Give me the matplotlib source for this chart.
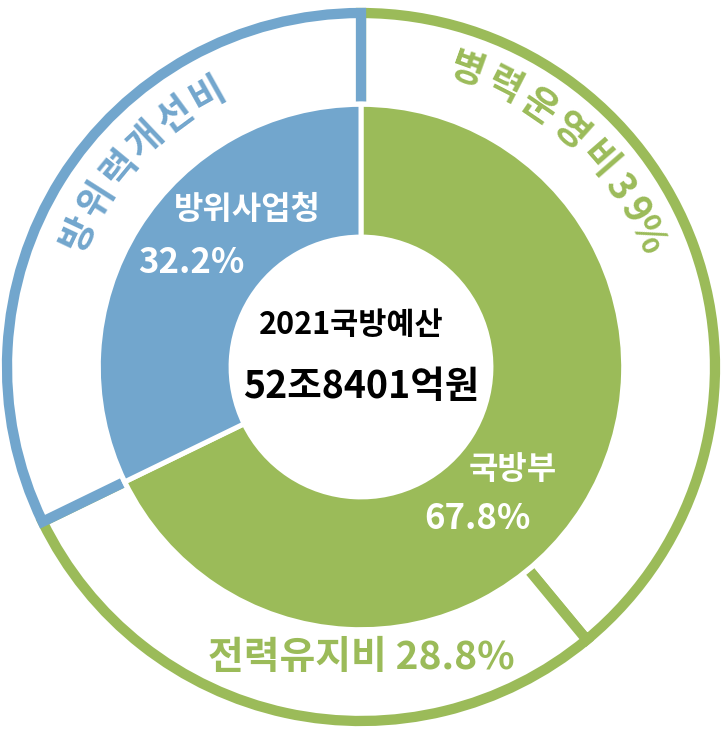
import numpy as np
import matplotlib.pyplot as plt

plt.rcParams['font.family'] = ['Noto Sans CJK KR', 'DejaVu Sans']

# data
inner_labels = ['국방부', '방위사업청']
inner_values = [67.8, 32.2]
outer_labels = ['병력운영비', '전력유지비', '방위력개선비']
outer_values = [39, 28.8, 32.2]
center_title = '2021국방예산'
center_total = '52조8401억원'

green = '#9bbb59'
blue = '#72a6cd'
inner_colors = [green, blue]
outer_colors = [green, green, blue]

fig = plt.figure(figsize=(7.22, 7.31), dpi=100)
ax = fig.add_axes([0, 0, 1, 1])

# outer ring: white wedges with coloured borders
wedges, _ = ax.pie(outer_values, radius=1.0, startangle=90, counterclock=False,
                   wedgeprops=dict(width=0.28, facecolor='white', linewidth=7.4, zorder=1))
for w, c in zip(wedges, outer_colors):
    w.set_edgecolor(c)

# hide the inner edge of the outer ring
ax.add_patch(plt.Circle((0, 0), 0.748, color='white', zorder=2))

# inner donut
ax.pie(inner_values, radius=0.742, startangle=90, counterclock=False, colors=inner_colors,
       wedgeprops=dict(width=0.375, edgecolor='white', linewidth=3.6, zorder=3))


def arc_text(text, r, mid_deg, unit_deg, color, size):
    widths = []
    for ch in text:
        if ch == ' ':
            widths.append(0.0)
        elif ch.isdigit() or ch in '.%':
            widths.append(0.7)
        else:
            widths.append(1.0)
    centers = np.cumsum(widths) - np.array(widths) / 2
    total = sum(widths)
    for ch, c in zip(text, centers):
        if ch == ' ':
            continue
        a = mid_deg + (total / 2 - c) * unit_deg
        t = np.deg2rad(a)
        ax.text(r * np.cos(t), r * np.sin(t), ch, rotation=a - 90, rotation_mode='anchor',
                ha='center', va='center', color=color, fontsize=size,
                fontweight='bold', zorder=5)


# outer labels
arc_text(outer_labels[2], 0.885, 137, 7.1, blue, 27)
arc_text(f'{outer_labels[0]} {outer_values[0]:g}%', 0.89, 48, 7.3, green, 27)
ax.text(0, -0.82, f'{outer_labels[1]} {outer_values[1]:g}%', ha='center', va='center',
        color=green, fontsize=28, fontweight='bold', zorder=5)

# inner labels
ax.text(-0.32, 0.443, inner_labels[1], ha='center', va='center', color='white',
        fontsize=23, fontweight='bold', zorder=5)
ax.text(-0.48, 0.294, f'{inner_values[1]:g}%', ha='center', va='center', color='white',
        fontsize=25, fontweight='bold', zorder=5)
ax.text(0.43, -0.29, inner_labels[0], ha='center', va='center', color='white',
        fontsize=23, fontweight='bold', zorder=5)
ax.text(0.328, -0.427, f'{inner_values[0]:g}%', ha='center', va='center', color='white',
        fontsize=25, fontweight='bold', zorder=5)

# centre
ax.text(-0.028, 0.119, center_title, ha='center', va='center', color='black',
        fontsize=22, fontweight='bold', zorder=5)
ax.text(0, -0.056, center_total, ha='center', va='center', color='black',
        fontsize=27, fontweight='bold', zorder=5)

ax.set_xlim(-361 / 354, 361 / 354)
ax.set_ylim(-364 / 354, 367 / 354)
ax.set_aspect('equal')
ax.axis('off')

fig.savefig('out.png', dpi=100)
